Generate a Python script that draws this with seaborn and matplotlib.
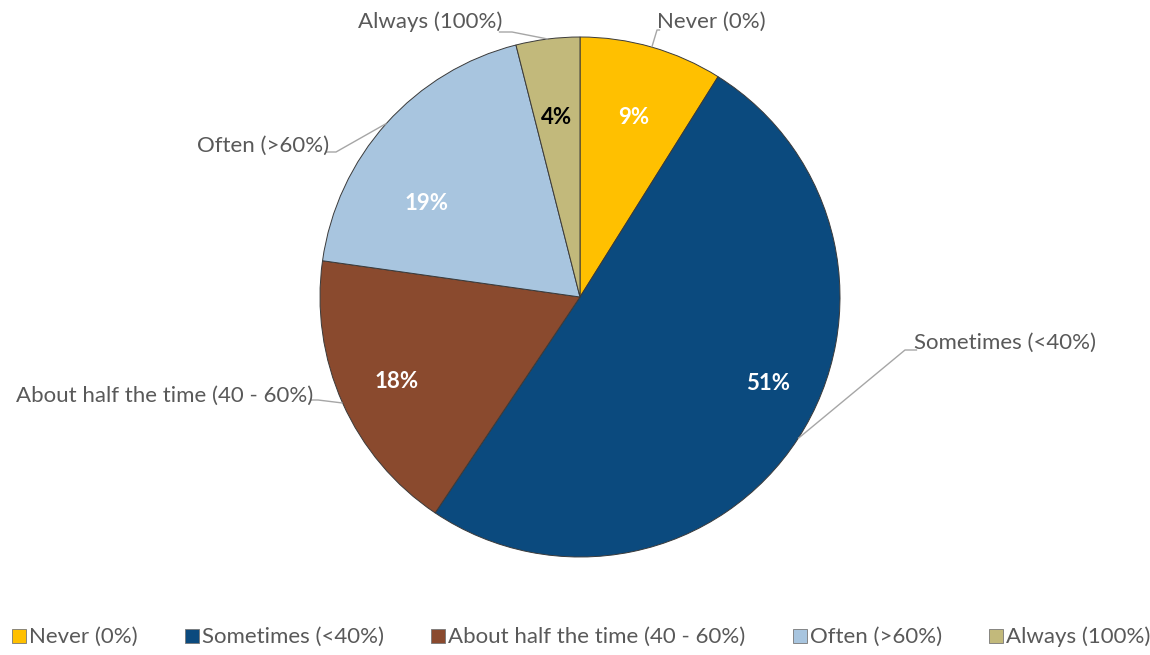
import numpy as np
import matplotlib
matplotlib.use("Agg")
import matplotlib.pyplot as plt
from matplotlib.lines import Line2D
import seaborn as sns

# Survey answers and their shares
categories = ["Never (0%)", "Sometimes (<40%)", "About half the time (40 - 60%)",
              "Often (>60%)", "Always (100%)"]
shares = [9, 51, 18, 19, 4]
pct_labels = ["9%", "51%", "18%", "19%", "4%"]
colors = ["#FFC000", "#0B4A7E", "#8A4A2E", "#A8C5DF", "#C2B97B"]
pct_colors = ["white", "white", "white", "white", "black"]

sns.set_theme(style="white")
plt.rcParams["font.family"] = ["Lato", "DejaVu Sans"]

fig = plt.figure(figsize=(11.5, 6.55), dpi=100)
W, H = 1150, 655
cx, cy, R = 580, 297, 260
ax = fig.add_axes([(cx - R) / W, (H - cy - R) / H, 2 * R / W, 2 * R / H])

wedges, _ = ax.pie(shares, colors=colors, startangle=90, counterclock=False,
                   radius=1.0, wedgeprops=dict(edgecolor="#3a3a3a", linewidth=0.7))
ax.set_xlim(-1, 1)
ax.set_ylim(-1, 1)
ax.set_aspect("equal")
ax.axis("off")

def mid_angle(w):
    return np.deg2rad((w.theta1 + w.theta2) / 2)

def px(x, y):
    return (x - cx) / R, (cy - y) / R

# percentage labels inside the slices
pct_pos = [px(634, 118), px(768, 383), px(397, 381), px(427, 203), px(557, 118)]
for (tx, ty), txt, col in zip(pct_pos, pct_labels, pct_colors):
    ax.text(tx, ty, txt, ha="center", va="center",
            fontsize=16, fontweight="bold", color=col)

# outer category labels with leader lines: (elbow point, text anchor, alignment)
callouts = [
    (px(657, 30), px(657, 22), "left"),
    (px(905, 350), px(914, 343), "left"),
    (px(318, 400), px(313, 396), "right"),
    (px(336, 152), px(329, 146), "right"),
    (px(512, 32), px(502, 22), "right"),
]
for w, cat, (elbow, tpos, ha) in zip(wedges, categories, callouts):
    a = mid_angle(w)
    ex, ey = np.cos(a), np.sin(a)
    end_x = tpos[0] + (0.012 if ha == "left" else -0.012)
    ax.plot([ex, elbow[0], end_x], [ey, elbow[1], elbow[1]], color="#a6a6a6",
            lw=1.0, clip_on=False, solid_capstyle="butt")
    ax.text(tpos[0], tpos[1], cat, ha=ha, va="center", fontsize=16,
            color="#595959", clip_on=False)

handles = [Line2D([], [], marker="s", linestyle="none", markersize=10,
                  markerfacecolor=c, markeredgecolor="#777777", markeredgewidth=0.6)
           for c in colors]
fig.legend(handles, categories, loc="center", bbox_to_anchor=(0.505, (H - 637) / H),
           ncol=5, frameon=False, fontsize=16, handlelength=0.7,
           handletextpad=0.1, columnspacing=2.1, labelcolor="#595959")

fig.savefig("out.png", dpi=100, facecolor="white")
